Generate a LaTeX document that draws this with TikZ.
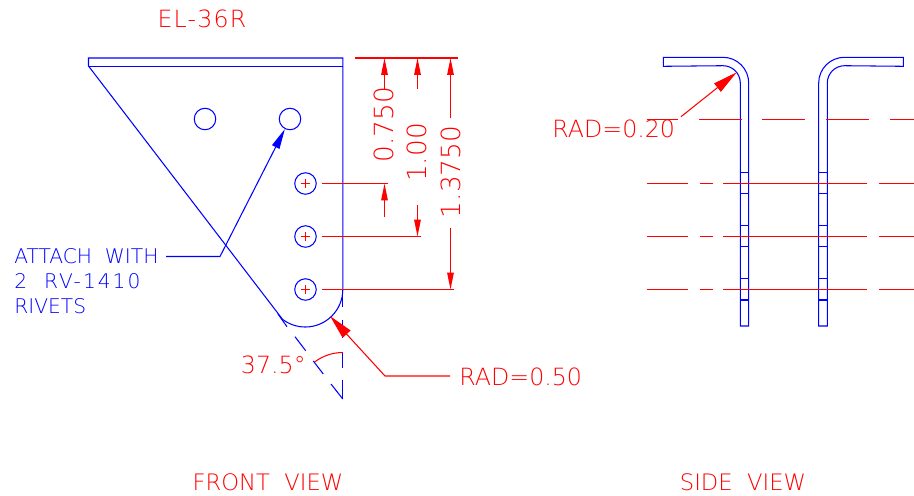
\documentclass[tikz,border=0pt]{standalone}
\usepackage{fontspec}
\setmainfont{DejaVu Sans ExtraLight}
\usetikzlibrary{arrows.meta}

\tikzset{
	blueline/.style={draw=blue, line width=0.6pt},
	redline/.style={draw=red, line width=0.6pt},
	dimarrow/.style={redline, -{Triangle[length=9.6pt,width=3.7pt]}},
	leadarrow/.style={redline, -{Triangle[length=14pt,width=6pt]}},
	rivetarrow/.style={blueline, -{Triangle[length=11.5pt,width=4.6pt]}},
	hole/.style={circle, blueline, inner sep=0pt, minimum size=0.43cm},
	redtext/.style={text=red, inner sep=0pt, font=\fontsize{13.5}{16}\selectfont},
	viewtext/.style={text=red, inner sep=0pt, font=\fontsize{12.9}{16}\selectfont},
	dimtext/.style={text=red, inner sep=0pt, rotate=90, font=\fontsize{15}{18}\selectfont},
	bluetext/.style={text=blue, inner sep=0pt, align=left, font=\fontsize{11.5}{14.2}\selectfont},
}

\begin{document}
\begin{tikzpicture}[x=0.02cm, y=0.02cm]
	\useasboundingbox (0,0) rectangle (914,-495);
	% Titles
	\node[redtext] (title) at (202,-19) {\addfontfeature{LetterSpace=5}EL-36R};
	\node[viewtext] (front) at (268,-482) {FRONT\ \ VIEW};
	\node[viewtext] (side) at (743,-482) {SIDE\ \ VIEW};
	% Front view outline
	\draw[blueline] (88.5,-58) -- (342.8,-58) -- (342.8,-289.5) arc (0:-127.5:37.5) -- (88.5,-66) -- cycle;
	\draw[blueline] (88.5,-66.5) -- (342.8,-66.5);
	% Holes
	\node[hole] (h1) at (205,-119) {};
	\node[hole] (h2) at (290,-119) {};
	\node[hole] (r1) at (305.5,-183.5) {};
	\node[hole] (r2) at (305.5,-236.5) {};
	\node[hole] (r3) at (305.5,-289.5) {};
	\draw[redline] (r1.center) +(-4.7,0) -- +(4.7,0) (r1.center) +(0,-4.7) -- +(0,4.7);
	\draw[redline] (r2.center) +(-4.7,0) -- +(4.7,0) (r2.center) +(0,-4.7) -- +(0,4.7);
	\draw[redline] (r3.center) +(-4.7,0) -- +(4.7,0) (r3.center) +(0,-4.7) -- +(0,4.7);
	% Rivet callout
	\node[bluetext, anchor=west] (attach) at (14,-281) {ATTACH\ \ WITH\\{\addfontfeature{LetterSpace=10}2\ \ RV-1410}\\RIVETS};
	\coordinate (a1) at (166,-256.5);
	\coordinate (a2) at (220,-256.5);
	\draw[rivetarrow] (a1) -- (a2) -- (h2);
	% Bend lines below the radius
	\draw[blueline] (342.8,-289) -- (342.8,-307) (342.8,-320) -- (342.8,-338) (342.8,-352) -- (342.8,-368) (342.8,-380) -- (342.8,-399);
	\draw[blueline] (278,-314) -- (287,-326.7) (295,-336.7) -- (305.7,-350.7) (313.3,-361) -- (323.3,-374) (331,-384) -- (342.8,-399);
	\coordinate (v) at (342.8,-399);
	\draw[redline] (v) ++(90:46.5) arc (90:127.5:46.5);
	\node[redtext, anchor=east] (angle) at (306,-365) {37.5°};
	% Radius callout, front
	\node[redtext, anchor=west] (rad50) at (459,-377) {RAD=0.50};
	\coordinate (b1) at (450,-376);
	\coordinate (b2) at (385,-376);
	\coordinate (b3) at (330,-316);
	\draw[leadarrow] (b1) -- (b2) -- (b3);
	% Extension lines
	\coordinate (e0a) at (355,-58);
	\coordinate (e0b) at (458,-58);
	\coordinate (e1) at (388,-183.5);
	\coordinate (e2) at (421,-236.5);
	\coordinate (e3) at (454,-289.5);
	\draw[redline] (e0a) -- (e0b);
	\draw[redline] (r1.center) ++(16.5,0) -- (e1);
	\draw[redline] (r2.center) ++(16.5,0) -- (e2);
	\draw[redline] (r3.center) ++(16.5,0) -- (e3);
	% Dimensions
	\node[dimtext] (d1) at (383.5,-124.5) {0.750};
	\node[dimtext] (d2) at (417,-152.5) {1.00};
	\node[dimtext] (d3) at (451,-172) {1.3750};
	\coordinate (d1a) at (384.5,-90);
	\coordinate (d1b) at (384.5,-58);
	\coordinate (d1c) at (384.5,-217);
	\coordinate (d1d) at (384.5,-183.5);
	\coordinate (d2a) at (417.5,-89);
	\coordinate (d2b) at (417.5,-58);
	\coordinate (d2c) at (417.5,-205);
	\coordinate (d2d) at (417.5,-236.5);
	\coordinate (d3a) at (450.5,-118);
	\coordinate (d3b) at (450.5,-58);
	\coordinate (d3c) at (450.5,-228);
	\coordinate (d3d) at (450.5,-289.5);
	\draw[dimarrow] (d1a) -- (d1b);
	\draw[dimarrow] (d1c) -- (d1d);
	\draw[dimarrow] (d2a) -- (d2b);
	\draw[dimarrow] (d2c) -- (d2d);
	\draw[dimarrow] (d3a) -- (d3b);
	\draw[dimarrow] (d3c) -- (d3d);
	% Side view, left leg
	\draw[blueline] (663.3,-57.3) -- (723,-57.3) arc (90:0:25.7) -- (748.7,-326) -- (740.3,-326) -- (740.3,-83) arc (0:90:17.3) -- (663.3,-66.3) -- cycle;
	\draw[blueline] (740.3,-172.3) -- (748.7,-172.3) (740.3,-193.7) -- (748.7,-193.7) (740.3,-225.7) -- (748.7,-225.7) (740.3,-246.7) -- (748.7,-246.7) (740.3,-278.7) -- (748.7,-278.7) (740.3,-300) -- (748.7,-300);
	% Side view, right leg
	\draw[blueline] (903.3,-57.3) -- (844.4,-57.3) arc (90:180:25.7) -- (818.7,-326) -- (827.3,-326) -- (827.3,-83) arc (180:90:17.3) -- (903.3,-66.3) -- cycle;
	\draw[blueline] (818.7,-172.3) -- (827.3,-172.3) (818.7,-193.7) -- (827.3,-193.7) (818.7,-225.7) -- (827.3,-225.7) (818.7,-246.7) -- (827.3,-246.7) (818.7,-278.7) -- (827.3,-278.7) (818.7,-300) -- (827.3,-300);
	% Center lines
	\draw[redline] (646.7,-119.5) -- (677.7,-119.5) (699,-119.5) -- (741.7,-119.5) (762,-119.5) -- (805,-119.5) (826,-119.5) -- (869,-119.5) (890,-119.5) -- (914,-119.5);
	\draw[redline] (646.7,-183.5) -- (687.7,-183.5) (700,-183.5) -- (712.7,-183.5) (723,-183.5) -- (867,-183.5) (879.3,-183.5) -- (914,-183.5);
	\draw[redline] (646.7,-236.5) -- (687.7,-236.5) (700,-236.5) -- (712.7,-236.5) (723,-236.5) -- (867,-236.5) (879.3,-236.5) -- (914,-236.5);
	\draw[redline] (646.7,-289.5) -- (687.7,-289.5) (700,-289.5) -- (712.7,-289.5) (723,-289.5) -- (867,-289.5) (879.3,-289.5) -- (914,-289.5);
	% Radius callout, side
	\node[redtext, anchor=west] (rad20) at (552,-129.3) {RAD=0.20};
	\coordinate (c1) at (681,-116.7);
	\coordinate (c2) at (736.7,-72.3);
	\draw[leadarrow] (c1) -- (c2);
\end{tikzpicture}
\end{document}
